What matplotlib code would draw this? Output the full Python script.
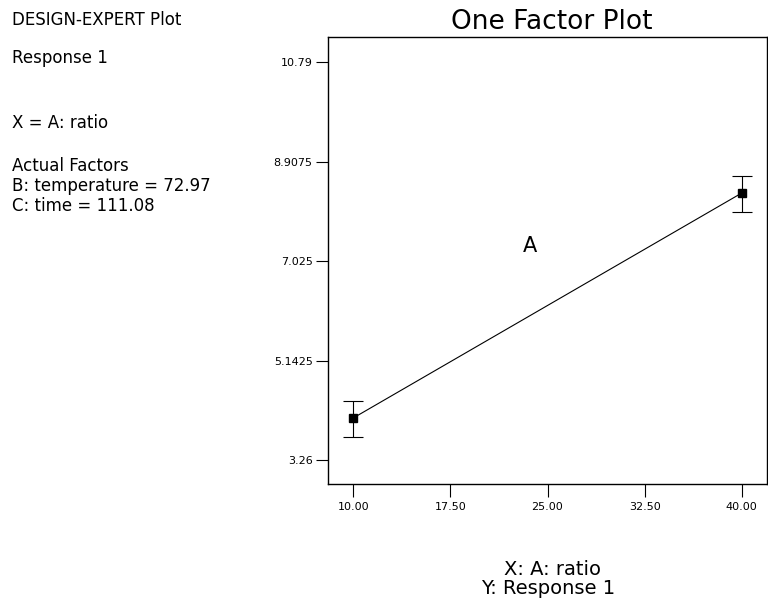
import matplotlib.pyplot as plt
import numpy as np

plt.rcParams['font.family'] = ['DejaVu Sans']

# --- data ---
ratio = [10.0, 40.0]
response = [4.055, 8.311]
err_low = [3.695, 7.952]
err_high = [4.376, 8.633]

x_ticks = [10.0, 17.5, 25.0, 32.5, 40.0]
x_tick_labels = ['10.00', '17.50', '25.00', '32.50', '40.00']
y_ticks = [3.26, 5.1425, 7.025, 8.9075, 10.79]
y_tick_labels = ['3.26', '5.1425', '7.025', '8.9075', '10.79']

# left side notes and their baseline (pixels from top)
info_lines = [
    ('DESIGN-EXPERT Plot', 25),
    ('Response 1', 63),
    ('X = A: ratio', 128),
    ('Actual Factors', 171),
    ('B: temperature = 72.97', 191),
    ('C: time = 111.08', 211),
]

W, H = 768, 601
fig = plt.figure(figsize=(W / 100, H / 100), dpi=100)
ax = fig.add_axes([328 / W, 1 - 484 / H, 439 / W, 447 / H])

resp = np.array(response)
yerr = np.vstack([resp - np.array(err_low), np.array(err_high) - resp])

ax.plot(ratio, response, color='black', linewidth=0.8)
ax.errorbar(ratio, response, yerr=yerr, fmt='none', ecolor='black',
            elinewidth=0.8, capsize=7, capthick=0.8)
ax.plot(ratio, response, 's', color='black', markersize=6)

ax.text(23.65, 7.30, 'A', fontsize=15, ha='center', va='center')

ax.set_xlim(8.05, 41.95)
ax.set_ylim(2.806, 11.263)
ax.set_xticks(x_ticks)
ax.set_xticklabels(x_tick_labels, fontsize=8)
ax.set_yticks(y_ticks)
ax.set_yticklabels(y_tick_labels, fontsize=8)
ax.tick_params(axis='x', direction='out', length=9, width=0.8, pad=4)
ax.tick_params(axis='y', direction='out', length=9, width=0.8, pad=2)
for s in ax.spines.values():
    s.set_linewidth(1.0)

fig.text(552 / W, 1 - 29 / H, 'One Factor Plot', fontsize=19,
         ha='center', va='baseline')

for txt, ypix in info_lines:
    fig.text(12 / W, 1 - ypix / H, txt, fontsize=12, ha='left', va='baseline')

fig.text(552 / W, 1 - 575 / H, 'X: A: ratio', fontsize=14,
         ha='center', va='baseline')
fig.text(548 / W, 1 - 594 / H, 'Y: Response 1', fontsize=14,
         ha='center', va='baseline')

fig.savefig('out.png', dpi=100)
